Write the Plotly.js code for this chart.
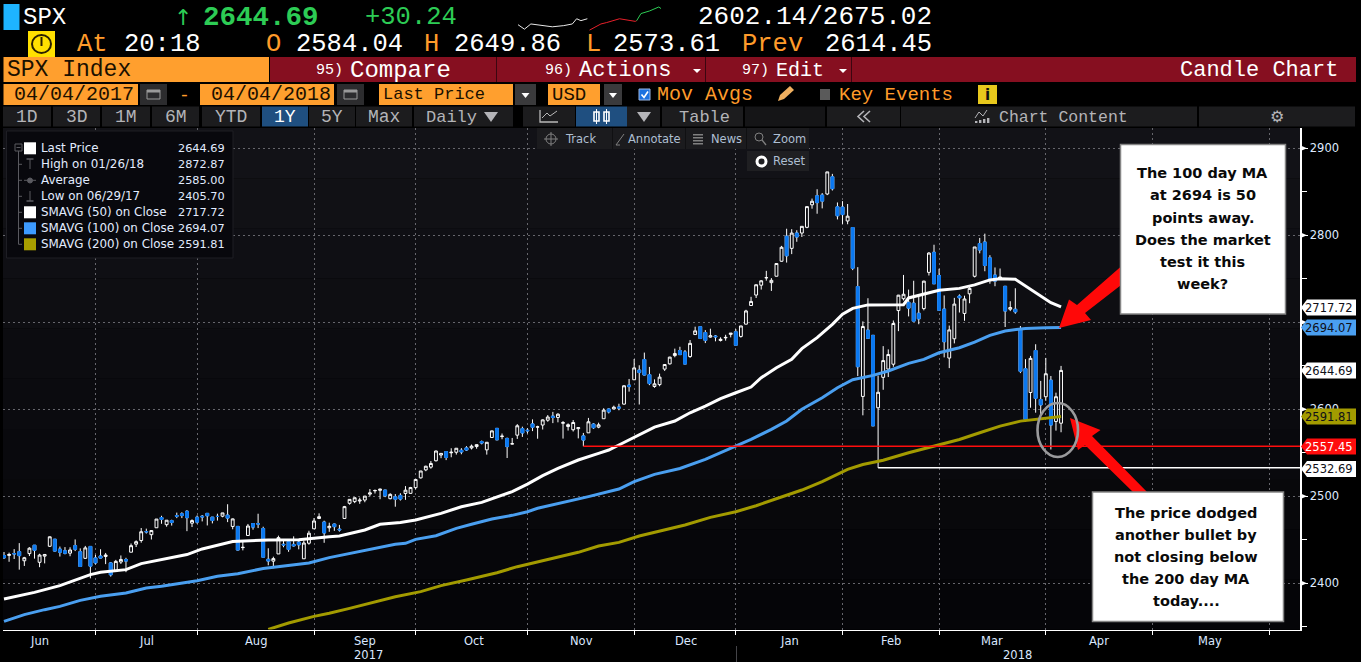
<!DOCTYPE html>
<html><head><meta charset="utf-8">
<script src="https://cdn.plot.ly/plotly-3.0.1.min.js"></script>
<style>html,body{margin:0;padding:0;background:#000;overflow:hidden}#c{width:1361px;height:662px}</style>
</head><body><div id="c"></div>
<script>
// ---------- data: daily SPX candles, 06 Jun 2017 .. 04 Apr 2018 (trading-day index 0..208)
const open = [
2431.92,2432.03,2434.27,2436.39,2425.88,2434.15,2443.75,2424.14,2431.24,2442.55,2450.66,2439.31,2437.40,2434.65,2443.32,2436.34,2428.70,2442.38,2429.20,
2431.39,2430.78,2423.44,2413.52,2424.51,2427.35,2435.75,2444.99,2449.16,2459.50,2455.88,2463.85,2475.56,2467.40,2472.04,2477.88,2479.97,2482.76,2469.12,2475.94,
2477.10,2480.38,2476.03,2476.88,2477.14,2478.35,2465.35,2465.38,2441.04,2454.96,2468.66,2468.63,2462.95,2427.64,2425.50,2433.75,2444.88,2447.91,2444.72,2447.35,2428.20,2446.06,2462.65,
2474.42,2470.35,2463.83,2468.06,2462.25,2474.52,2491.94,2493.89,2494.56,2495.67,2502.51,2506.29,2506.84,2507.16,2497.26,2499.39,2501.04,2503.30,2503.41,2509.96,
2521.20,2530.34,2533.48,2540.86,2547.44,2551.39,2549.99,2550.62,2552.88,2555.66,2555.57,2557.17,2562.87,2553.39,2567.56,2578.08,2568.66,2566.52,2560.08,2570.26,2577.75,2575.99,
2583.21,2579.46,2581.93,2587.47,2592.11,2590.64,2584.00,2580.18,2576.53,2577.75,2569.45,2572.95,2582.94,2579.49,2589.17,2600.31,2600.42,2602.66,2605.94,2627.82,2633.93,
2645.10,2657.19,2639.78,2626.24,2628.38,2646.21,2652.19,2661.73,2667.59,2665.87,2660.63,2685.92,2694.95,2688.18,2683.02,2684.22,2679.09,2682.10,2686.10,2689.15,
2683.73,2697.85,2719.31,2731.33,2742.67,2751.15,2745.55,2752.97,2770.18,2798.96,2784.99,2802.60,2802.60,2809.16,2835.05,2845.42,2846.24,2847.48,2867.23,2832.74,2832.41,
2816.45,2808.92,2741.06,2614.78,2690.95,2685.01,2601.78,2636.75,2646.27,2651.83,2713.46,2727.14,2722.99,2722.00,2710.42,2715.80,2757.37,2780.45,2753.78,
2715.22,2658.89,2681.06,2730.18,2710.18,2732.75,2752.91,2790.54,2792.31,2774.06,2754.27,2750.57,2741.38,2715.05,2714.99,2691.36,2646.71,2619.35,2667.57,2611.30,2614.41,
2633.45,2586.00,2584.04];
const high = [
2436.00,2435.28,2439.27,2446.20,2430.38,2441.49,2443.75,2433.95,2433.15,2453.82,2450.66,2442.23,2441.62,2441.40,2450.42,2440.15,2442.97,2442.73,2432.71,
2439.17,2434.90,2424.28,2426.92,2432.00,2429.30,2445.76,2449.32,2463.54,2462.82,2460.92,2473.83,2477.62,2472.54,2473.10,2481.24,2481.69,2484.04,2473.53,2477.96,
2478.51,2480.38,2476.03,2480.00,2480.95,2490.87,2474.41,2465.38,2448.09,2468.22,2468.90,2479.97,2465.02,2440.27,2430.58,2454.77,2448.91,2450.39,2453.96,2449.12,2449.19,2460.39,2475.01,
2480.38,2471.97,2469.64,2468.62,2467.11,2488.95,2496.77,2498.37,2498.43,2500.23,2508.32,2507.84,2508.85,2507.16,2503.47,2502.54,2503.51,2511.75,2510.81,2519.44,
2529.23,2535.13,2540.53,2552.51,2549.41,2551.82,2555.23,2555.24,2555.33,2557.65,2559.47,2559.71,2564.11,2562.36,2575.44,2578.29,2572.18,2567.40,2567.07,2582.98,2580.03,2578.29,
2588.40,2581.11,2588.42,2593.38,2597.02,2595.47,2586.50,2583.81,2587.66,2579.66,2572.84,2590.09,2583.96,2584.64,2601.19,2600.94,2604.21,2606.41,2627.69,2634.89,2657.74,
2650.62,2665.19,2648.72,2634.41,2640.99,2651.65,2660.33,2669.72,2671.88,2668.09,2679.63,2694.97,2695.14,2691.01,2692.64,2685.35,2682.74,2685.64,2687.66,2692.12,
2695.89,2714.37,2729.29,2743.45,2748.51,2759.14,2750.80,2767.56,2787.85,2807.54,2807.04,2805.83,2810.33,2833.03,2842.24,2852.97,2848.56,2872.87,2870.62,2837.75,2839.26,
2835.96,2808.92,2763.39,2701.04,2727.67,2685.27,2638.67,2672.61,2668.84,2702.10,2731.51,2754.42,2737.60,2747.75,2731.26,2747.76,2780.64,2789.15,2761.52,
2730.89,2696.25,2728.09,2732.08,2730.60,2740.45,2786.57,2796.98,2801.90,2777.11,2763.03,2761.85,2741.38,2724.22,2739.14,2695.68,2657.67,2661.36,2674.78,2632.65,2659.07,
2638.30,2619.14,2649.86];
const low = [
2428.12,2424.75,2427.94,2415.70,2419.97,2431.28,2428.34,2418.53,2422.88,2441.79,2436.60,2430.74,2433.27,2431.11,2437.03,2419.38,2428.02,2405.70,2421.65,
2428.69,2422.05,2407.70,2413.52,2422.27,2412.79,2435.75,2441.69,2446.69,2457.16,2450.34,2463.85,2468.43,2465.06,2466.32,2474.91,2474.94,2459.93,2464.66,2468.53,
2471.14,2466.48,2468.85,2472.08,2475.88,2470.32,2462.08,2437.75,2437.85,2454.96,2461.61,2463.50,2430.01,2420.69,2417.35,2433.67,2441.42,2436.19,2442.22,2439.03,2428.20,2444.38,2462.65,
2473.85,2446.55,2459.20,2460.29,2459.40,2474.52,2490.37,2492.14,2491.35,2493.16,2499.92,2503.19,2496.67,2499.00,2496.54,2488.03,2495.12,2495.91,2502.93,2507.99,
2520.40,2528.85,2531.72,2540.02,2543.79,2541.60,2544.86,2547.95,2548.31,2552.09,2553.83,2554.69,2559.67,2547.92,2567.56,2564.33,2565.58,2544.00,2559.80,2565.94,2568.25,2572.15,
2574.92,2566.17,2576.77,2585.66,2584.12,2585.02,2566.33,2575.57,2574.48,2566.56,2557.45,2572.95,2577.62,2578.24,2589.17,2595.23,2600.42,2598.87,2605.44,2620.32,2633.93,
2605.52,2639.03,2627.73,2624.75,2626.53,2644.10,2651.47,2659.78,2662.85,2652.01,2659.14,2685.92,2680.74,2676.11,2682.40,2678.13,2677.96,2678.91,2682.69,2673.61,
2682.36,2697.77,2719.07,2727.92,2737.60,2747.86,2736.06,2752.78,2769.64,2768.64,2778.38,2792.56,2798.08,2808.12,2830.59,2824.81,2830.94,2846.18,2851.48,2818.27,2813.04,
2812.70,2759.97,2638.17,2593.07,2681.33,2580.56,2532.69,2622.45,2637.08,2648.87,2689.82,2725.11,2706.76,2701.29,2697.77,2713.74,2753.78,2744.14,2713.54,
2659.65,2647.32,2675.75,2711.26,2701.74,2721.92,2751.54,2779.26,2758.68,2744.38,2741.47,2749.97,2694.59,2712.85,2709.79,2641.59,2585.89,2601.81,2596.12,2593.06,2609.72,
2553.80,2575.49,2573.61];
const close = [
2429.33,2433.14,2433.79,2431.77,2429.39,2440.35,2437.92,2432.46,2433.15,2453.46,2437.03,2435.61,2434.50,2438.30,2439.07,2419.38,2440.69,2419.70,2423.41,
2429.01,2432.54,2409.75,2425.18,2427.43,2425.53,2443.25,2447.83,2459.27,2459.14,2460.61,2473.83,2473.45,2472.54,2469.91,2477.13,2477.83,2475.42,2472.10,2470.30,
2476.35,2477.57,2472.16,2476.83,2480.91,2474.92,2474.02,2438.21,2441.32,2465.84,2464.61,2468.11,2430.01,2425.55,2428.37,2452.51,2444.04,2438.97,2443.05,2444.24,2446.30,2457.59,2471.65,
2476.55,2457.85,2465.54,2465.10,2461.43,2488.11,2496.48,2498.37,2495.62,2500.23,2503.87,2506.65,2508.24,2500.60,2502.22,2496.66,2496.84,2507.04,2510.06,2519.36,
2529.12,2534.58,2537.74,2552.07,2549.33,2544.73,2550.64,2555.24,2550.93,2553.17,2557.64,2559.36,2561.26,2562.10,2575.21,2564.98,2569.13,2557.15,2560.40,2581.07,2572.83,2575.26,
2579.36,2579.85,2587.84,2591.13,2590.64,2594.38,2584.62,2582.30,2584.84,2578.87,2564.62,2585.64,2578.85,2582.14,2599.03,2597.08,2602.42,2601.42,2627.04,2626.07,2647.58,
2642.22,2639.44,2629.57,2629.27,2636.98,2651.50,2659.99,2664.11,2662.85,2652.01,2675.81,2690.16,2681.47,2679.25,2684.57,2683.34,2680.50,2682.62,2687.54,2673.61,
2695.81,2713.06,2723.99,2743.15,2747.71,2751.29,2748.23,2767.56,2786.24,2776.42,2802.56,2798.03,2810.30,2832.97,2839.13,2837.54,2839.25,2872.87,2853.53,2822.43,2823.81,
2821.98,2762.13,2648.94,2695.14,2681.66,2581.00,2619.55,2656.00,2662.94,2698.63,2731.20,2732.22,2716.26,2701.33,2703.96,2747.30,2779.60,2744.28,2713.83,
2677.67,2691.25,2720.94,2728.12,2726.80,2738.97,2786.57,2783.02,2765.31,2749.48,2747.33,2752.01,2712.92,2716.94,2711.93,2643.69,2588.26,2658.55,2612.62,2605.00,2640.87,
2581.88,2614.45,2644.69];

const sma50Day = [0,6,11,17,19,24,27,32,36,39,42,45,52,58,64,66,71,74,78,81,86,90,94,97,100,103,106,109,113,117,119,121,125,128,132,135,138,141,144,147,149,152,155,157,160,163,165,167,170,173,177,178,181,184,188,191,194,196,199,201,204,206,208];
const sma50 = [2382,2389.6,2397.3,2410,2412.7,2415.7,2422.6,2428,2433,2439.5,2443.7,2448,2449.9,2450.2,2453.6,2454.4,2461.3,2467.8,2470,2472.8,2480.4,2488,2493,2499.6,2505.3,2514,2523.7,2532,2541.7,2549.4,2553.2,2559,2571,2579.6,2586.5,2596,2603.7,2612.2,2619,2625.6,2636.3,2647.8,2657.4,2669.7,2682.4,2697.7,2709.2,2716,2720,2720,2720.3,2728,2732.6,2736.8,2739,2743,2748.7,2750,2749.5,2741.8,2731,2722.6,2717.72];
const sma100Day = [0,4,8,11,15,19,24,28,31,38,42,46,51,56,60,64,68,73,77,79,81,85,89,92,96,100,103,105,110,115,121,124,128,133,138,142,147,151,154,157,161,164,167,171,174,178,181,184,188,191,194,197,201,205,208];
const sma100 = [2356.3,2364,2369.7,2373.5,2380.4,2385,2388.9,2394.6,2396.5,2403,2408,2411,2417,2421,2423.4,2429.5,2434.4,2440.2,2444.8,2446,2450.5,2454.7,2463.2,2467.8,2473.9,2478.1,2482.3,2486.2,2492.7,2499.6,2508.4,2516.8,2525.2,2532,2542.5,2553,2565.4,2576.9,2586.5,2600,2613.3,2624.8,2634,2639,2644,2652.8,2657.4,2665,2670.8,2677.3,2685,2690,2693,2693.8,2694.07];
const sma200Day = [52,56,61,64,68,72,77,82,86,91,97,101,106,113,117,121,125,128,134,139,144,148,153,157,161,166,169,173,178,183,188,192,196,200,204,208];
const sma200 = [2347,2354.4,2362,2365.5,2371.2,2377,2384.6,2390.4,2397.3,2403.8,2412.2,2419.1,2426,2435.6,2442.9,2447,2454.4,2458.6,2467,2475.8,2482.3,2489.2,2498.8,2507.2,2516.8,2531,2536.5,2541.5,2550,2557.7,2565.3,2573,2580.7,2586.4,2589.5,2591.81];

// header sparkline samples
const sparkDayX = [0,4.5,9,17,24,32,38,41,44,48.5];
const sparkDay = [2586,2567,2589,2582,2577,2582,2589,2611,2603,2611];
const sparkRedX = [50,58,62,71,82,83];
const sparkRed = [2563,2589,2595,2611,2600,2603];
const sparkGreenX = [83,86,92,98.5,100];
const sparkGreen = [2603,2633,2644,2661,2654];

// axis labels
const gridDays = [18,38,61,81,103,124,144,165,184,205,226,249];
const monthLabels = ['Jun','Jul','Aug','Sep','Oct','Nov','Dec','Jan','Feb','Mar','Apr','May'];
const monthDays = [7,28,49.5,71,92.5,113.7,134.2,154.5,174.5,194.5,215.5,237.3];
const yearLabels = ['2017','2018'];
const yearDays = [71.8,199.5];
const priceTicks = [2400,2500,2600,2700,2800,2900];
const priceTickText = ['2400','2500','2600','','2800','2900'];

// levels and price tags
const levelRedDay = 114, levelRed = 2557.45;
const levelWhiteDay = 172, levelWhite = 2532.69;
const tagValues = [2717.72,2694.07,2644.69,2591.81,2557.45,2532.69];
const tagFill = ['#ffffff','#4a9ff0','#ffffff','#a39b00','#ff0d0d','#ffffff'];
const tagInk = ['#101018','#101018','#101018','#101018','#ffffff','#101018'];

const legendNames = ['Last Price','High on 01/26/18','Average','Low on 06/29/17','SMAVG (50) on Close','SMAVG (100) on Close','SMAVG (200) on Close'];
const legendValues = ['2644.69','2872.87','2585.00','2405.70','2717.72','2694.07','2591.81'];
const callout1 = ['The 100 day MA','at 2694 is 50','points away.','Does the market','test it this','week?'];
const callout2 = ['The price dodged','another bullet by','not closing below','the 200 day MA','today....'];

// ---------- page layout helpers (page pixels -> paper fractions)
const W = 1361, H = 662;
const PL = 3, PR = 1300, PT = 128, PB = 629.5;
const X = p => p / W, Y = p => 1 - p / H;
const PXDAY = 5.082;
const xRange = [(PL - 4) / PXDAY, (PR - 4) / PXDAY];
const yPx = v => 583.3 - (v - 2400) * 0.87;
const yRange = [2400 + (583.3 - PB) / 0.87, 2400 + (583.3 - PT) / 0.87];

const SANS = '"DejaVu Sans"', MONO = '"Liberation Mono"';
const shapes = [], ann = [];
function rect(x0, y0, x1, y1, fill, line, lw, layer) {
  shapes.push({type:'rect', xref:'paper', yref:'paper', x0:X(x0), x1:X(x1), y0:Y(y0), y1:Y(y1),
    fillcolor:fill || 'rgba(0,0,0,0)', line:{color:line || 'rgba(0,0,0,0)', width:line ? (lw || 1) : 0}, layer:layer || 'above'});
}
function poly(pts, fill, line, lw, closed) {
  const d = pts.map((p, i) => (i ? 'L' : 'M') + X(p[0]) + ' ' + Y(p[1])).join(' ') + (closed === false ? '' : ' Z');
  shapes.push({type:'path', xref:'paper', yref:'paper', path:d, fillcolor:fill || 'rgba(0,0,0,0)',
    line:{color:line || 'rgba(0,0,0,0)', width:line ? (lw || 1) : 0}});
}
function ell(x0, y0, x1, y1, line, lw, fill) {
  shapes.push({type:'circle', xref:'paper', yref:'paper', x0:X(x0), x1:X(x1), y0:Y(y0), y1:Y(y1),
    fillcolor:fill || 'rgba(0,0,0,0)', line:{color:line, width:lw}});
}
function txt(x, y, text, color, size, anchor, family, bold) {
  ann.push({xref:'paper', yref:'paper', x:X(x), y:Y(y), text:bold ? '<b>' + text + '</b>' : text, showarrow:false,
    xanchor:anchor || 'left', yanchor:'middle', borderpad:0,
    font:{color:color, size:size, family:family || MONO}});
}

// ---------- plot background shading
const bgTop = [18,18,23], bgBottom = [5,5,8], bands = 10;
for (let i = 0; i < bands; i++) {
  const t = i / (bands - 1);
  const c = bgTop.map((a, k) => Math.round(a + (bgBottom[k] - a) * t));
  rect(PL, PT + (PB - PT) * i / bands, PR, PT + (PB - PT) * (i + 1) / bands, 'rgb(' + c + ')', null, 0, 'below');
}

// ---------- header rows
const GREEN = '#2dcc55', ORANGE = '#ff9b2a', ORFILL = '#ff9f2e', MAROON = '#860f20', BTN = '#1c1c1e', BTNTXT = '#b4b4b8', DARK = '#1a1000';
rect(3.5, 4, 19.5, 30, '#1eb4ff');
txt(22, 17.5, 'SPX', '#ffffff', 24);
txt(183, 17.5, '↑', GREEN, 22, 'center', SANS);
txt(202, 17.5, '2644.69', GREEN, 27.5, 'left', MONO, true);
txt(364, 17.5, '+30.24', GREEN, 25.5);
txt(697, 17.5, '2602.14/2675.02', '#ffffff', 26);
rect(28, 31, 55, 57, '#ffe000');
ell(32, 35, 51, 53, '#2a2000', 2);
poly([[41.5, 37], [41.5, 46]], null, '#2a2000', 2, false);
const R2 = 44.5, R2F = 25.5;
txt(76, R2, 'At', ORANGE, R2F);
txt(123, R2, '20:18', '#ffffff', R2F);
txt(265, R2, 'O', ORANGE, R2F);
txt(294.5, R2, '2584.04', '#ffffff', R2F);
txt(423, R2, 'H', ORANGE, R2F);
txt(453.5, R2, '2649.86', '#ffffff', R2F);
txt(585, R2, 'L', ORANGE, R2F);
txt(611.5, R2, '2573.61', '#ffffff', R2F);
txt(741, R2, 'Prev', ORANGE, R2F);
txt(823.5, R2, '2614.45', '#ffffff', R2F);

// row 3
rect(3.5, 57, 269, 82, ORFILL);
rect(270, 57, 1356, 82, MAROON);
[496, 705, 851].forEach(x => rect(x, 57, x + 1, 82, '#3c0610'));
txt(6, 70, 'SPX Index', DARK, 23);
txt(315, 70, '95)', '#ffffff', 15);
txt(349, 70, 'Compare', '#ffffff', 24);
txt(544, 70, '96)', '#ffffff', 15);
txt(578, 70, 'Actions', '#ffffff', 22);
txt(741, 70, '97)', '#ffffff', 15);
txt(775, 70, 'Edit', '#ffffff', 20);
txt(1179, 70, 'Candle Chart', '#ffffff', 22);
[[697, 71], [843, 71]].forEach(p => poly([[p[0] - 4, p[1] - 2], [p[0] + 4, p[1] - 2], [p[0], p[1] + 2]], '#ffffff'));

// row 4
rect(3.5, 84, 138, 105, ORFILL);
txt(13, 95, '04/04/2017', DARK, 20);
rect(200, 84, 334, 105, ORFILL);
txt(210, 95, '04/04/2018', DARK, 20);
rect(379, 84, 513, 105, ORFILL);
txt(382, 95, 'Last Price', DARK, 17);
rect(548, 84, 600, 105, ORFILL);
txt(551, 95, 'USD', DARK, 19);
[[140, 167], [337, 364]].forEach(b => {
  rect(b[0], 84, b[1], 105, '#2c2c2e');
  rect(b[0] + 7, 90, b[1] - 7, 99, null, '#9a9a9a', 1);
  rect(b[0] + 7, 90, b[1] - 7, 92.5, '#9a9a9a');
});
txt(184, 96, '-', ORANGE, 18, 'center');
[[515, 536], [604, 622]].forEach(b => {
  rect(b[0], 84, b[1], 105, '#3a3a3c');
  const m = (b[0] + b[1]) / 2;
  poly([[m - 4, 93], [m + 4, 93], [m, 98]], '#ffffff');
});
rect(639, 89, 650, 100, '#1c72e0', '#9ab8e8', 1);
poly([[641.5, 94.5], [644, 97.5], [648, 91.5]], null, '#ffffff', 1.6, false);
txt(656, 95, 'Mov Avgs', ORANGE, 20);
poly([[778, 101], [780, 95], [790, 86], [794, 90], [784, 99]], '#f0b060');
rect(820, 89, 830, 100, '#5a5a5a');
txt(838, 95, 'Key Events', ORANGE, 19);
rect(978, 85, 997, 104, '#e8c81c');
txt(987.5, 95, 'i', '#101010', 15, 'center', SANS, true);

// row 5 buttons
const BTNS = [[3, 51, '1D'], [53, 100, '3D'], [102, 150, '1M'], [152, 199, '6M'], [202, 260, 'YTD'], [262, 308, '1Y'], [309, 355, '5Y'], [356, 412, 'Max']];
BTNS.forEach(b => {
  rect(b[0], 106.5, b[1], 126.5, b[2] === '1Y' ? '#1f4f80' : BTN);
  txt((b[0] + b[1]) / 2, 117, b[2], b[2] === '1Y' ? '#ffffff' : BTNTXT, 18, 'center');
});
rect(414, 106.5, 513, 126.5, BTN);
txt(425, 117, 'Daily', BTNTXT, 17);
poly([[484, 112], [498, 112], [491, 122]], BTNTXT);
rect(523, 106.5, 575, 126.5, BTN);
poly([[540, 110], [540, 122], [558, 122]], null, '#b8b8b8', 1.3, false);
poly([[542, 118], [547, 113], [550, 116], [557, 111]], null, '#b8b8b8', 1, false);
rect(576, 106.5, 627, 126.5, '#1f4f80');
[[593, 600], [603, 610]].forEach(b => {
  rect(b[0] + 1, 112, b[1] - 1, 121, null, '#ffffff', 1.6);
  poly([[(b[0] + b[1]) / 2, 109], [(b[0] + b[1]) / 2, 124]], null, '#ffffff', 1, false);
});
rect(627, 106.5, 660, 126.5, BTN);
poly([[637, 112], [651, 112], [644, 122]], BTNTXT);
rect(662, 106.5, 743, 126.5, BTN);
txt(705, 117, 'Table', BTNTXT, 17, 'center');
rect(745, 106.5, 825, 126.5, '#151517');
rect(827, 106.5, 900, 126.5, BTN);
[[858, 864], [864, 870]].forEach(c => poly([[c[1], 111], [c[0], 116.5], [c[1], 122]], null, BTNTXT, 1.6, false));
rect(901, 106.5, 1197, 126.5, BTN);
poly([[975, 118], [979, 112], [983, 116], [987, 110]], null, BTNTXT, 1, false);
[975, 979, 983, 987].forEach((x, i) => rect(x, 123 - 2 - i, x + 2.4, 123, BTNTXT));
txt(998, 117, 'Chart Content', BTNTXT, 16.5);
rect(1199, 106.5, 1355, 126.5, BTN);
txt(1277, 116.5, '⚙', BTNTXT, 16, 'center', SANS);

// ---------- chart toolbar
rect(537, 128, 809, 149, '#1b1b1e');
rect(747, 151, 809, 171, '#1f1f22');
[612, 685, 746].forEach(x => rect(x, 128, x + 1, 149, '#101012'));
const TB = '#aebfd2', TBF = 11.5;
txt(580, 139, 'Track', TB, TBF, 'center', SANS);
txt(654, 139, 'Annotate', TB, TBF, 'center', SANS);
txt(726, 139, 'News', TB, TBF, 'center', SANS);
txt(789, 139, 'Zoom', TB, TBF, 'center', SANS);
txt(789, 160.5, 'Reset', TB, TBF, 'center', SANS);
ell(546, 134, 556, 144, '#808080', 1);
poly([[551, 132], [551, 146]], null, '#808080', 1, false);
poly([[544, 139], [558, 139]], null, '#808080', 1, false);
poly([[612 + 8, 145], [612 + 4, 145], [612 + 12, 134]], null, '#808080', 1, false);
[134, 137, 140, 143].forEach(y => rect(693, y, 703, y + 1.5, '#808080'));
ell(755, 133, 763, 141, '#808080', 1);
poly([[762, 140], [766, 145]], null, '#808080', 1.3, false);
ell(757, 157, 766, 166, '#ffffff', 3);

// ---------- legend panel
rect(6.5, 131, 233, 258, '#08080d', '#1e1e24', 1);
const legendRows = [148.3, 164.3, 180.3, 196.3, 212.3, 228.3, 244.3];
const TREE = '#5a5a60';
rect(15, 144, 22, 151, null, TREE, 1);
poly([[16.5, 147.5], [20.5, 147.5]], null, TREE, 1, false);
poly([[18.5, 151], [18.5, 244.3]], null, TREE, 1, false);
legendRows.slice(1).forEach(y => poly([[18.5, y], [22, y]], null, TREE, 1, false));
legendNames.forEach((n, i) => {
  txt(40, legendRows[i], n, '#e2ecff', 11.9, 'left', SANS);
  txt(226, legendRows[i], legendValues[i], '#e2ecff', 11.3, 'right', SANS);
});
const SW = {0:'#ffffff', 4:'#ffffff', 5:'#3d9bff', 6:'#a89e00'};
Object.keys(SW).forEach(k => rect(24, legendRows[k] - 6, 36, legendRows[k] + 6, SW[k]));
poly([[30, 159], [30, 169]], null, TREE, 1, false);
poly([[26.5, 159], [33.5, 159]], null, TREE, 1.5, false);
poly([[24, 180.3], [36, 180.3]], null, TREE, 1, false);
ell(27.5, 178, 32.5, 183, TREE, 1, TREE);
poly([[30, 191], [30, 201]], null, TREE, 1, false);
poly([[26.5, 201], [33.5, 201]], null, TREE, 1.5, false);

// ---------- y tick arrows
priceTicks.forEach(v => {
  const y = yPx(v);
  poly([[PR, y - 3], [PR + 7, y], [PR, y + 3]], '#ffffff');
});

// ---------- arrows, ring, callouts
const RED = '#ff0808';
poly([[1059, 328], [1069, 299.5], [1077, 305], [1125, 263], [1125, 282], [1085, 313], [1091, 320]], RED);
poly([[1070, 418], [1100.5, 430], [1092, 436], [1149, 494], [1135, 494], [1085, 445], [1078, 450]], RED);
ell(1037.5, 403, 1078, 457, '#9a9a9c', 2.6);
rect(1120.5, 144.5, 1285.5, 314, '#ffffff', '#858585', 1.5);
rect(1092.5, 492, 1283.5, 621.5, '#ffffff', '#858585', 1.5);
const c1y = [173.3, 195.4, 217.5, 239.5, 261.6, 283.7];
callout1.forEach((t, i) => txt(1202.5, c1y[i], t, '#0a0a0a', 14.5, 'center', SANS, true));
const c2y = [512.7, 534.8, 556.8, 578.8, 601];
callout2.forEach((t, i) => txt(1186, c2y[i], t, '#0a0a0a', 14.5, 'center', SANS, true));

// ---------- right-hand price tags
tagValues.forEach((v, i) => {
  const y = Math.round(yPx(v)) + (v === 2532.69 ? 1 : 0.5);
  poly([[1301, y], [1307, y - 8], [1356, y - 8], [1356, y + 8], [1307, y + 8]], tagFill[i]);
  txt(1354, y, v.toFixed(2), tagInk[i], 11.5, 'right', SANS);
});

// ---------- x labels
monthLabels.forEach((m, i) => ann.push({xref:'x', yref:'paper', x:monthDays[i], y:Y(640.5), text:m, showarrow:false,
  xanchor:'center', yanchor:'middle', font:{color:'#dbe8ff', size:11.5, family:SANS}}));
yearLabels.forEach((t, i) => ann.push({xref:'x', yref:'paper', x:yearDays[i], y:Y(654.5), text:t, showarrow:false,
  xanchor:'center', yanchor:'middle', font:{color:'#dbe8ff', size:11.5, family:SANS}}));
poly([[736.5, 646], [736.5, 662]], null, '#444448', 1, false);

// ---------- traces
const days = open.map((_, i) => i);
const down = days.filter(i => close[i] < open[i]);
const WICK = {line:{color:'#ffffff', width:1}, fillcolor:'#0a0a0e'};
const BLUE = '#0a78f0';
const traces = [
  {type:'candlestick', x:days, open:open, high:high, low:low, close:close, whiskerwidth:0,
    increasing:WICK, decreasing:WICK, hoverinfo:'skip', showlegend:false, xaxis:'x', yaxis:'y'},
  {type:'candlestick', x:down.map(i => i), open:down.map(i => open[i]), high:down.map(i => open[i]),
    low:down.map(i => close[i]), close:down.map(i => close[i]), whiskerwidth:0,
    decreasing:{line:{color:BLUE, width:1}, fillcolor:BLUE}, increasing:{line:{color:BLUE, width:1}, fillcolor:BLUE},
    hoverinfo:'skip', showlegend:false, xaxis:'x', yaxis:'y'},
  {type:'scatter', mode:'lines', x:[levelWhiteDay, xRange[1]], y:[levelWhite, levelWhite], line:{color:'#ffffff', width:1.5}, hoverinfo:'skip', showlegend:false},
  {type:'scatter', mode:'lines', x:sma200Day, y:sma200, line:{color:'#a39b00', width:3}, name:'SMAVG (200)', hoverinfo:'skip', showlegend:false},
  {type:'scatter', mode:'lines', x:sma100Day, y:sma100, line:{color:'#4a9ff0', width:3}, name:'SMAVG (100)', hoverinfo:'skip', showlegend:false},
  {type:'scatter', mode:'lines', x:sma50Day, y:sma50, line:{color:'#ffffff', width:3}, name:'SMAVG (50)', hoverinfo:'skip', showlegend:false},
  {type:'scatter', mode:'lines', x:[levelRedDay, xRange[1]], y:[levelRed, levelRed], line:{color:'#ff0d0d', width:1.5}, hoverinfo:'skip', showlegend:false},
  {type:'scatter', mode:'lines', x:sparkDayX, y:sparkDay, line:{color:'#e8e8e8', width:1}, xaxis:'x2', yaxis:'y2', hoverinfo:'skip', showlegend:false},
  {type:'scatter', mode:'lines', x:sparkRedX, y:sparkRed, line:{color:'#e8202a', width:1}, xaxis:'x2', yaxis:'y2', hoverinfo:'skip', showlegend:false},
  {type:'scatter', mode:'lines', x:sparkGreenX, y:sparkGreen, line:{color:'#2dcc55', width:1}, xaxis:'x2', yaxis:'y2', hoverinfo:'skip', showlegend:false}
];

const GRID = '#66666c';
const layout = {
  width:W, height:H, margin:{l:0, r:0, t:0, b:0, pad:0}, autosize:false, showlegend:false,
  paper_bgcolor:'#000000', plot_bgcolor:'rgba(0,0,0,0)', boxgap:0.44, boxgroupgap:0, boxmode:'overlay',
  xaxis:{domain:[X(PL), X(PR)], range:xRange, type:'linear', anchor:'y', fixedrange:true, zeroline:false,
    tickmode:'array', tickvals:gridDays, showticklabels:false, ticks:'outside', ticklen:4, tickcolor:'#ffffff', tickwidth:1,
    showgrid:true, gridcolor:GRID, griddash:'2px,3px', gridwidth:1, showline:true, linecolor:'#ffffff', linewidth:1.5,
    rangeslider:{visible:false}},
  yaxis:{domain:[Y(PB), Y(PT)], range:yRange, type:'linear', anchor:'x', side:'right', fixedrange:true, zeroline:false,
    tickmode:'array', tickvals:priceTicks, ticktext:priceTickText, ticks:'outside', ticklen:6, tickcolor:'#ffffff', tickwidth:1,
    tickfont:{color:'#dfeaff', size:11.5, family:SANS}, showgrid:true, gridcolor:GRID, griddash:'2px,3px', gridwidth:1,
    showline:true, linecolor:'#ffffff', linewidth:1.5,
    minor:{tick0:2350, dtick:100, ticks:'outside', ticklen:5, tickcolor:'#ffffff', tickwidth:1, showgrid:false}},
  xaxis2:{domain:[X(518), X(661)], range:[0, 100], anchor:'y2', visible:false, fixedrange:true},
  yaxis2:{domain:[Y(32), Y(6)], range:[2555, 2665], anchor:'x2', visible:false, fixedrange:true},
  shapes:shapes, annotations:ann
};
Plotly.newPlot('c', traces, layout, {displayModeBar:false, staticPlot:true, responsive:false});
</script></body></html>
